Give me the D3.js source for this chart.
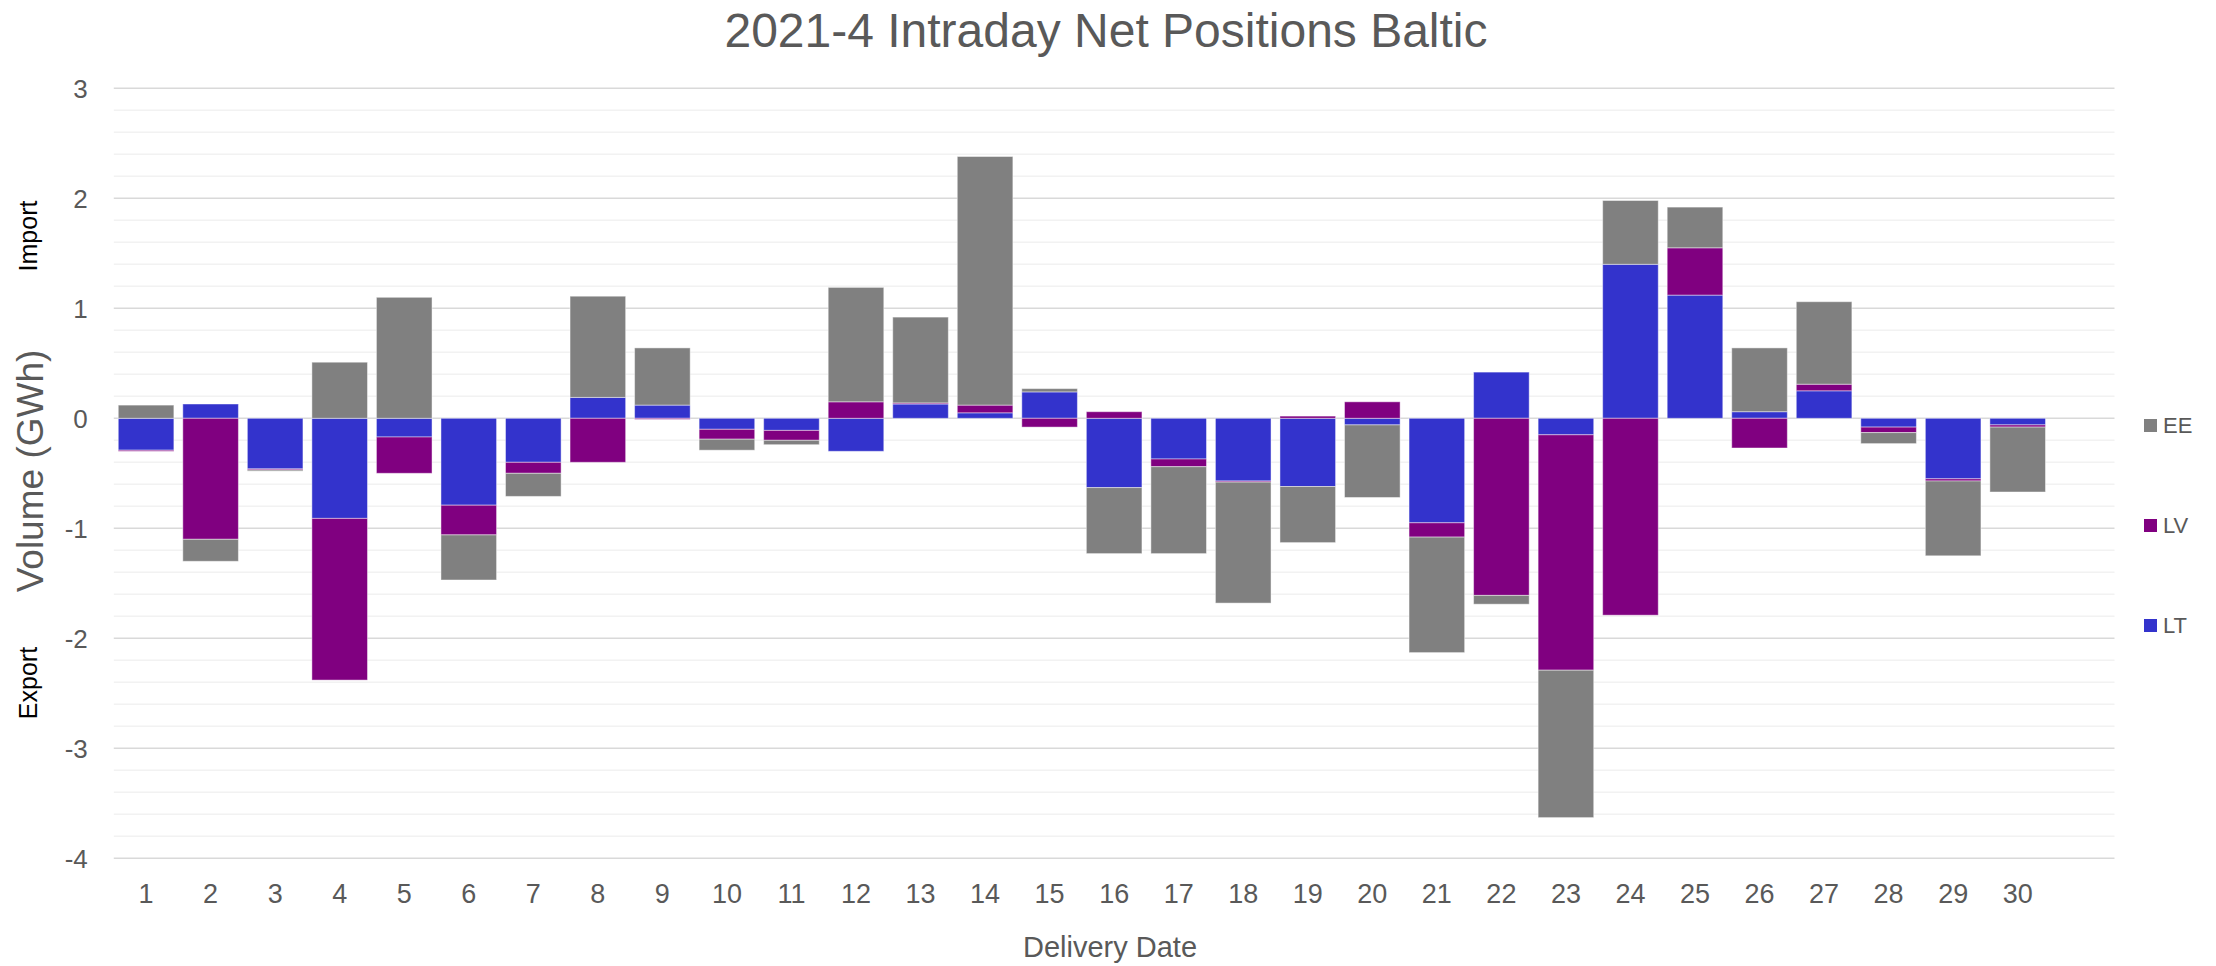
<!DOCTYPE html>
<html>
<head>
<meta charset="utf-8">
<script src="https://cdn.jsdelivr.net/npm/d3@7"></script>
<style>
  html, body { margin: 0; padding: 0; background: #ffffff; }
  svg { display: block; }
  text { font-family: "Liberation Sans", Arial, sans-serif; }
</style>
</head>
<body>
<script>
// ---------------- data ----------------
const title = "2021-4 Intraday Net Positions Baltic";
const days = ["1","2","3","4","5","6","7","8","9","10","11","12","13","14","15",
              "16","17","18","19","20","21","22","23","24","25","26","27","28","29","30"];
// the category axis has one trailing empty slot after day 30
const categorySlots = days.concat(["31"]);
const seriesNames = ["EE", "LV", "LT"];          // legend order
const stackOrder = ["LT", "LV", "EE"];           // stacking order from zero outward
const LT = [-0.29, 0.13, -0.46, -0.91, -0.17, -0.79, -0.40, 0.19, 0.12, -0.10,
            -0.11, -0.30, 0.13, 0.05, 0.24, -0.63, -0.37, -0.57, -0.62, -0.06,
            -0.95, 0.42, -0.15, 1.40, 1.12, 0.06, 0.25, -0.08, -0.55, -0.06];
const LV = [-0.01, -1.10, -0.01, -1.47, -0.33, -0.27, -0.10, -0.40, -0.01, -0.09,
            -0.09, 0.15, 0.01, 0.07, -0.08, 0.06, -0.07, -0.01, 0.02, 0.15,
            -0.13, -1.61, -2.14, -1.79, 0.43, -0.27, 0.06, -0.05, -0.02, -0.02];
const EE = [0.12, -0.20, -0.01, 0.51, 1.10, -0.41, -0.21, 0.92, 0.52, -0.10,
            -0.04, 1.04, 0.78, 2.26, 0.03, -0.60, -0.79, -1.10, -0.51, -0.66,
            -1.05, -0.08, -1.34, 0.58, 0.37, 0.58, 0.75, -0.10, -0.68, -0.59];
const yTicks = [-4, -3, -2, -1, 0, 1, 2, 3];
const yTickLabels = ["-4", "-3", "-2", "-1", "0", "1", "2", "3"];
const yMinorStep = 0.2;
const colors = { EE: "#808080", LV: "#800080", LT: "#3333CC" };

// ---------------- layout ----------------
const W = 2216, H = 966;
const plot = { left: 113.8, right: 2114.5, top: 88.3, bottom: 858.3 };

const svg = d3.select("body").append("svg")
  .attr("width", W).attr("height", H)
  .attr("viewBox", `0 0 ${W} ${H}`);
svg.append("rect").attr("width", W).attr("height", H).attr("fill", "#ffffff");

const x = d3.scaleBand()
  .domain(categorySlots)
  .range([plot.left, plot.right])
  .paddingInner(0.1385)
  .paddingOuter(0.0693);

const y = d3.scaleLinear()
  .domain([-4, 3])
  .range([plot.bottom, plot.top]);

// ---------------- gridlines ----------------
const minor = d3.range(-4, 3 + 1e-9, yMinorStep).filter(v => Math.abs(v - Math.round(v)) > 1e-6);
svg.append("g").selectAll("line").data(minor).join("line")
  .attr("x1", plot.left).attr("x2", plot.right)
  .attr("y1", d => y(d)).attr("y2", d => y(d))
  .attr("stroke", "#f2f2f2").attr("stroke-width", 1.5);
svg.append("g").selectAll("line").data(yTicks).join("line")
  .attr("x1", plot.left).attr("x2", plot.right)
  .attr("y1", d => y(d)).attr("y2", d => y(d))
  .attr("stroke", "#d9d9d9").attr("stroke-width", 1.5);

// ---------------- bars ----------------
const table = days.map((d, i) => ({ day: d, LT: LT[i], LV: LV[i], EE: EE[i] }));
const stacked = d3.stack().keys(stackOrder).offset(d3.stackOffsetDiverging)(table);

svg.append("g").selectAll("g").data(stacked).join("g")
  .attr("fill", s => colors[s.key])
  .selectAll("rect").data(s => s).join("rect")
  .attr("x", d => x(d.data.day))
  .attr("width", x.bandwidth())
  .attr("y", d => y(Math.max(d[0], d[1])))
  .attr("height", d => Math.abs(y(d[0]) - y(d[1])))
  .attr("stroke", "#ffffff").attr("stroke-opacity", 0.45).attr("stroke-width", 1);

// ---------------- axes ----------------
const yAxis = svg.append("g")
  .attr("transform", `translate(${plot.left - 26},0)`)
  .call(d3.axisLeft(y).tickValues(yTicks).tickSize(0).tickPadding(0)
    .tickFormat((d, i) => yTickLabels[i]));
yAxis.select(".domain").remove();
yAxis.selectAll("text")
  .attr("font-family", "'Liberation Sans', Arial, sans-serif")
  .attr("font-size", 26).attr("fill", "#595959")
  .attr("dy", "0.35em");

const xAxis = svg.append("g")
  .attr("transform", `translate(0,${plot.bottom})`)
  .call(d3.axisBottom(x).tickValues(days).tickSize(0).tickPadding(0));
xAxis.select(".domain").remove();
xAxis.selectAll("text")
  .attr("font-family", "'Liberation Sans', Arial, sans-serif")
  .attr("font-size", 27).attr("fill", "#595959")
  .attr("y", 45).attr("dy", 0);

// ---------------- titles ----------------
svg.append("text")
  .attr("x", 1106).attr("y", 46.5)
  .attr("text-anchor", "middle")
  .attr("font-size", 48).attr("fill", "#595959")
  .text(title);

svg.append("text")
  .attr("x", 1110).attr("y", 957)
  .attr("text-anchor", "middle")
  .attr("font-size", 29).attr("fill", "#595959")
  .text("Delivery Date");

svg.append("text")
  .attr("transform", "translate(43,471) rotate(-90)")
  .attr("text-anchor", "middle")
  .attr("font-size", 37).attr("fill", "#595959")
  .text("Volume (GWh)");

svg.append("text")
  .attr("transform", "translate(36.5,236) rotate(-90)")
  .attr("text-anchor", "middle")
  .attr("font-family", "'DejaVu Sans', Verdana, sans-serif")
  .attr("font-size", 25).attr("fill", "#000000")
  .text("Import");

svg.append("text")
  .attr("transform", "translate(36.5,683) rotate(-90)")
  .attr("text-anchor", "middle")
  .attr("font-family", "'DejaVu Sans', Verdana, sans-serif")
  .attr("font-size", 25).attr("fill", "#000000")
  .text("Export");

// ---------------- legend ----------------
const legendY = d3.scalePoint().domain(seriesNames).range([425.5, 625.5]);
const lg = svg.append("g").selectAll("g").data(seriesNames).join("g")
  .attr("transform", d => `translate(2144,${legendY(d)})`);
lg.append("rect")
  .attr("x", 0).attr("y", -6.5).attr("width", 13).attr("height", 13)
  .attr("fill", d => colors[d]);
lg.append("text")
  .attr("x", 19).attr("y", 0).attr("dy", "0.36em")
  .attr("font-size", 22).attr("fill", "#595959")
  .text(d => d);
</script>
</body>
</html>
